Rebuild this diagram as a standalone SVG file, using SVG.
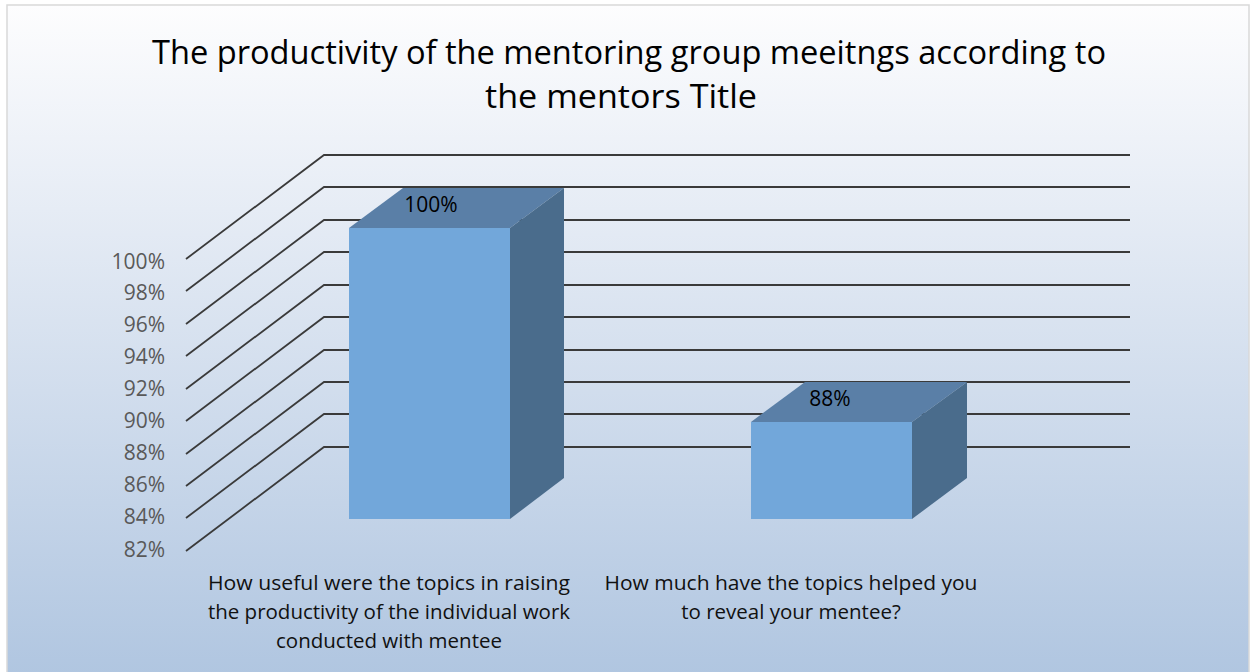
<svg xmlns="http://www.w3.org/2000/svg" width="1257" height="672" viewBox="0 0 1257 672">
<defs>
<linearGradient id="bg" x1="0" y1="0" x2="0" y2="1">
<stop offset="0" stop-color="#fdfdfe"/>
<stop offset="0.3" stop-color="#e6ecf5"/>
<stop offset="1" stop-color="#afc5e0"/>
</linearGradient>
<style>
.grid{fill:none;stroke:#3a3a3a;stroke-width:1.8}
.ax{font-family:"Open Sans","Liberation Sans",sans-serif;font-size:21px;fill:#595959;text-anchor:end}
.cat{font-family:"Open Sans","Liberation Sans",sans-serif;font-size:20.5px;fill:#111;text-anchor:middle}
.ttl{font-family:"Open Sans","Liberation Sans",sans-serif;font-size:33px;fill:#000;text-anchor:middle}
.lbl{font-family:"Open Sans","Liberation Sans",sans-serif;font-size:21px;fill:#000;text-anchor:middle}
.front{fill:#72a7da}
.top{fill:#5a7fa7}
.side{fill:#4a6c8c}
</style>
</defs>
<rect x="0" y="0" width="1257" height="672" fill="#ffffff"/>
<rect id="chart-area" x="7" y="5" width="1242" height="680" fill="url(#bg)" stroke="#d9d9d9" stroke-width="1.5"/>
<g id="title">
<text class="ttl" x="629" y="64" textLength="954" lengthAdjust="spacingAndGlyphs">The productivity of the mentoring group meeitngs according to</text>
<text class="ttl" x="621" y="108" textLength="272" lengthAdjust="spacingAndGlyphs">the mentors Title</text>
</g>
<g id="gridlines">
<path class="grid" d="M186 259 L324 155 L1130 155"/>
<path class="grid" d="M186 291 L324 187 L1130 187"/>
<path class="grid" d="M186 324 L324 220 L1130 220"/>
<path class="grid" d="M186 356 L324 252 L1130 252"/>
<path class="grid" d="M186 389 L324 285 L1130 285"/>
<path class="grid" d="M186 421 L324 317 L1130 317"/>
<path class="grid" d="M186 454 L324 350 L1130 350"/>
<path class="grid" d="M186 486 L324 382 L1130 382"/>
<path class="grid" d="M186 518 L324 414 L1130 414"/>
<path class="grid" d="M186 551 L324 447 L1130 447"/>
</g>
<g id="axis-labels">
<text class="ax" x="165" y="269">100%</text>
<text class="ax" x="165" y="300">98%</text>
<text class="ax" x="165" y="332">96%</text>
<text class="ax" x="165" y="364">94%</text>
<text class="ax" x="165" y="396">92%</text>
<text class="ax" x="165" y="428">90%</text>
<text class="ax" x="165" y="460">88%</text>
<text class="ax" x="165" y="492">86%</text>
<text class="ax" x="165" y="524">84%</text>
<text class="ax" x="165" y="557">82%</text>
</g>
<g id="bar1">
<polygon class="top" points="349,228 403,188 564,188 510,228"/>
<polygon class="side" points="510,228 564,188 564,478 510,519"/>
<rect class="front" x="349" y="228" width="161" height="291"/>
<text class="lbl" x="431" y="212">100%</text>
</g>
<g id="bar2">
<polygon class="top" points="751,422 805,382 967,382 912,422"/>
<polygon class="side" points="912,422 967,382 967,478 912,519"/>
<rect class="front" x="751" y="422" width="161" height="97"/>
<text class="lbl" x="830" y="406">88%</text>
</g>
<g id="category-labels">
<text class="cat" x="389" y="590" textLength="362" lengthAdjust="spacingAndGlyphs">How useful were the topics in raising</text>
<text class="cat" x="389" y="619">the productivity of the individual work</text>
<text class="cat" x="389" y="648">conducted with mentee</text>
<text class="cat" x="791" y="590" textLength="373" lengthAdjust="spacingAndGlyphs">How much have the topics helped you</text>
<text class="cat" x="791" y="619">to reveal your mentee?</text>
</g>
</svg>
